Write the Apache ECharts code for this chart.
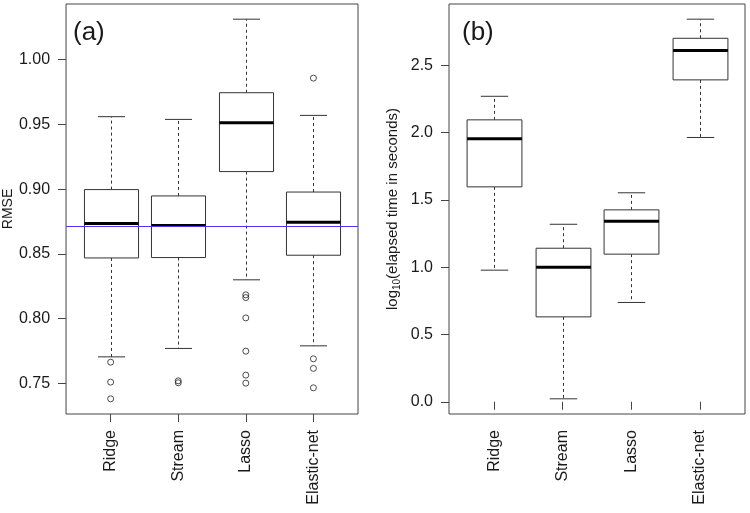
<!DOCTYPE html>
<html>
<head>
<meta charset="utf-8">
<script src="https://cdn.jsdelivr.net/npm/echarts@6/dist/echarts.min.js"></script>
<style>
html,body{margin:0;padding:0;background:#fff;}
#chart{width:750px;height:513px;}
</style>
</head>
<body>
<div id="chart"></div>
<script>
// ---- data ----
var categories = ['Ridge', 'Stream', 'Lasso', 'Elastic-net'];
// [lower whisker, Q1, median, Q3, upper whisker]
var rmseBox = [
  [0.7705, 0.8469, 0.8735, 0.8997, 0.9560],
  [0.7770, 0.8472, 0.8719, 0.8948, 0.9539],
  [0.8300, 0.9136, 0.9514, 0.9745, 1.0313],
  [0.7790, 0.8490, 0.8745, 0.8978, 0.9570]
];
// [category index, value]
var rmseOutliers = [
  [0, 0.7664], [0, 0.7510], [0, 0.7381],
  [1, 0.7520], [1, 0.7505],
  [2, 0.8184], [2, 0.8163], [2, 0.8006], [2, 0.7749], [2, 0.7564], [2, 0.7502],
  [3, 0.9858], [3, 0.7690], [3, 0.7616], [3, 0.7466]
];
var rmseReference = 0.8719;
var timeBox = [
  [0.978, 1.597, 1.954, 2.095, 2.270],
  [0.022, 0.631, 1.000, 1.141, 1.319],
  [0.738, 1.097, 1.342, 1.426, 1.553],
  [1.964, 2.392, 2.610, 2.701, 2.843]
];
var rmseTicks = [0.75, 0.80, 0.85, 0.90, 0.95, 1.00];
var timeTicks = [0.0, 0.5, 1.0, 1.5, 2.0, 2.5];
var catTicks = [1, 2, 3, 4];
var panelLabels = ['(a)', '(b)'];

// ---- helpers ----
var FONT = "'Liberation Sans', Arial, Helvetica, sans-serif";
var TXT = '#1a1a1a';
var REF_COLOR = '#5a2ff2';

function extRange(boxes, outliers) {
  var lo = Infinity, hi = -Infinity;
  boxes.forEach(function (b) { lo = Math.min(lo, b[0]); hi = Math.max(hi, b[4]); });
  (outliers || []).forEach(function (o) { lo = Math.min(lo, o[1]); hi = Math.max(hi, o[1]); });
  var r = hi - lo;
  return [lo - 0.04 * r, hi + 0.04 * r];
}
var rmseRange = extRange(rmseBox, rmseOutliers);
var timeRange = extRange(timeBox, []);

function boxData(boxes) {
  return boxes.map(function (b, i) { return [i + 1].concat(b); });
}

function renderBox(params, api) {
  var x = api.value(0);
  var w = api.size([0.8, 0])[0];
  var hw = w / 2, cw = w / 4;
  var pMin = api.coord([x, api.value(1)]);
  var pQ1 = api.coord([x, api.value(2)]);
  var pMed = api.coord([x, api.value(3)]);
  var pQ3 = api.coord([x, api.value(4)]);
  var pMax = api.coord([x, api.value(5)]);
  var cx = Math.round(pMin[0]) + 0.5;
  var dash = { stroke: '#333', lineWidth: 1, lineDash: [3, 3] };
  var solid = { stroke: '#333', lineWidth: 1 };
  return {
    type: 'group',
    children: [
      { type: 'line', shape: { x1: cx, y1: pQ3[1], x2: cx, y2: pMax[1] }, style: dash },
      { type: 'line', shape: { x1: cx, y1: pQ1[1], x2: cx, y2: pMin[1] }, style: dash },
      { type: 'line', shape: { x1: cx - cw, y1: pMax[1], x2: cx + cw, y2: pMax[1] }, style: solid },
      { type: 'line', shape: { x1: cx - cw, y1: pMin[1], x2: cx + cw, y2: pMin[1] }, style: solid },
      { type: 'rect', shape: { x: cx - hw, y: pQ3[1], width: w, height: pQ1[1] - pQ3[1] },
        style: { fill: '#fff', stroke: '#333', lineWidth: 1 } },
      { type: 'line', shape: { x1: cx - hw, y1: pMed[1], x2: cx + hw, y2: pMed[1] },
        style: { stroke: '#000', lineWidth: 3 } }
    ]
  };
}

function renderRefLine(params, api) {
  var cs = params.coordSys;
  var y = Math.round(api.coord([1, api.value(0)])[1]) + 0.5;
  return {
    type: 'line',
    shape: { x1: cs.x, y1: y, x2: cs.x + cs.width, y2: y },
    style: { stroke: REF_COLOR, lineWidth: 1 }
  };
}

function xAxisDef(gi) {
  return {
    gridIndex: gi, type: 'value', min: 0.34, max: 4.66,
    axisLine: { show: false },
    splitLine: { show: false },
    axisTick: { show: true, length: 8, customValues: catTicks, lineStyle: { color: '#444' } },
    axisLabel: {
      customValues: catTicks, rotate: 90, margin: 16,
      fontFamily: FONT, fontSize: 16, color: TXT,
      formatter: function (v) { return categories[Math.round(v) - 1] || ''; }
    }
  };
}

var option = {
  animation: false,
  backgroundColor: '#fff',
  title: [
    { text: panelLabels[0], left: 73, top: 20, padding: 0,
      textStyle: { fontFamily: FONT, fontSize: 26, fontWeight: 'normal', color: TXT } },
    { text: panelLabels[1], left: 462, top: 20, padding: 0,
      textStyle: { fontFamily: FONT, fontSize: 26, fontWeight: 'normal', color: TXT } }
  ],
  grid: [
    { left: 62, width: 296, top: 4, height: 410, show: true, borderColor: '#444', borderWidth: 1, backgroundColor: 'transparent' },
    { left: 449, width: 296, top: 4, height: 410, show: true, borderColor: '#444', borderWidth: 1, backgroundColor: 'transparent' }
  ],
  xAxis: [xAxisDef(0), xAxisDef(1)],
  yAxis: [
    {
      gridIndex: 0, type: 'value', min: rmseRange[0], max: rmseRange[1],
      name: 'RMSE', nameLocation: 'middle', nameRotate: 90, nameGap: 48,
      nameTextStyle: { fontFamily: FONT, fontSize: 14, color: TXT },
      axisLine: { show: false }, splitLine: { show: false },
      axisTick: { show: true, length: 8, customValues: rmseTicks, lineStyle: { color: '#444' } },
      axisLabel: { customValues: rmseTicks, margin: 16, fontFamily: FONT, fontSize: 16, color: TXT,
        formatter: function (v) { return v.toFixed(2); } }
    },
    {
      gridIndex: 1, type: 'value', min: timeRange[0], max: timeRange[1],
      name: '{n|log}{s|10}{n|(elapsed time in seconds)}', nameLocation: 'middle', nameRotate: 90, nameGap: 47,
      nameTextStyle: {
        fontFamily: FONT, fontSize: 15, color: TXT,
        rich: {
          n: { fontFamily: FONT, fontSize: 15, color: TXT, lineHeight: 18, verticalAlign: 'middle' },
          s: { fontFamily: FONT, fontSize: 10, color: TXT, lineHeight: 18, verticalAlign: 'bottom', padding: [6, 0, 0, 0] }
        }
      },
      axisLine: { show: false }, splitLine: { show: false },
      axisTick: { show: true, length: 8, customValues: timeTicks, lineStyle: { color: '#444' } },
      axisLabel: { customValues: timeTicks, margin: 16, fontFamily: FONT, fontSize: 16, color: TXT,
        formatter: function (v) { return v.toFixed(1); } }
    }
  ],
  series: [
    {
      type: 'custom', xAxisIndex: 0, yAxisIndex: 0,
      data: boxData(rmseBox), renderItem: renderBox,
      encode: { x: 0, y: [1, 2, 3, 4, 5] },
      z: 2
    },
    {
      type: 'scatter', xAxisIndex: 0, yAxisIndex: 0,
      data: rmseOutliers.map(function (o) { return [o[0] + 1, o[1]]; }),
      symbol: 'circle', symbolSize: 6,
      itemStyle: { color: 'rgba(0,0,0,0)', borderColor: '#222', borderWidth: 1 },
      z: 3
    },
    {
      type: 'custom', xAxisIndex: 0, yAxisIndex: 0,
      data: [[rmseReference]], renderItem: renderRefLine,
      encode: { y: 0 }, silent: true,
      z: 10
    },
    {
      type: 'custom', xAxisIndex: 1, yAxisIndex: 1,
      data: boxData(timeBox), renderItem: renderBox,
      encode: { x: 0, y: [1, 2, 3, 4, 5] },
      z: 2
    }
  ]
};

var chart = echarts.init(document.getElementById('chart'), null, { renderer: 'canvas' });
chart.setOption(option);
</script>
</body>
</html>
